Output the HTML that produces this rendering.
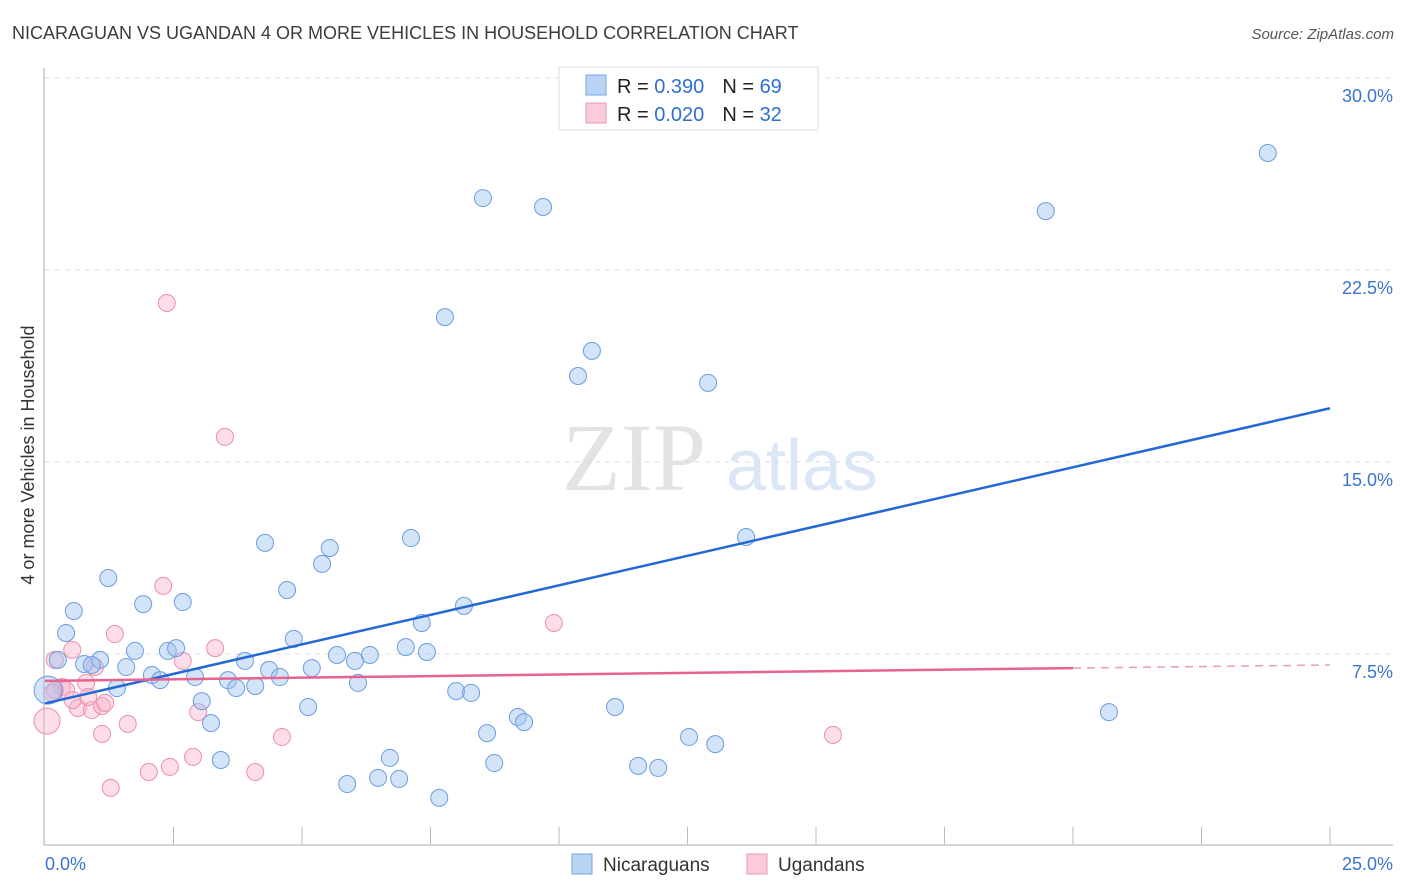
<!DOCTYPE html>
<html><head><meta charset="utf-8"><style>
body{margin:0;background:#fff;font-family:"Liberation Sans",sans-serif}
svg{display:block}
</style></head><body>
<svg id="chart" width="1406" height="892" viewBox="0 0 1406 892">
<text x="12" y="39" font-size="18" fill="#3c3c3c">NICARAGUAN VS UGANDAN 4 OR MORE VEHICLES IN HOUSEHOLD CORRELATION CHART</text>
<text x="1394" y="39" font-size="15" fill="#555" font-style="italic" text-anchor="end">Source: ZipAtlas.com</text>
<g>
<text x="634" y="490" font-size="96" fill="#e3e3e3" font-family="Liberation Serif,serif" text-anchor="middle">ZIP</text>
<text x="802" y="490" font-size="72" fill="#dbe7f7" text-anchor="middle">atlas</text>
</g>
<g id="grid"></g>
<g id="axes"></g>
<g id="marks"></g>
<text transform="translate(34,455) rotate(-90)" font-size="18" fill="#333" text-anchor="middle">4 or more Vehicles in Household</text>
<g>
<rect x="559" y="67" width="259" height="63" fill="#fff" stroke="#ddd"/>
<rect x="586" y="75" width="20" height="20" fill="#b9d3f5" stroke="#7aa6e3"/>
<rect x="586" y="103" width="20" height="20" fill="#fbcadb" stroke="#ee9ab8"/>
<text x="617" y="93" font-size="20" fill="#222">R = <tspan fill="#2f6fd0">0.390</tspan><tspan dx="18">N = </tspan><tspan fill="#2f6fd0">69</tspan></text>
<text x="617" y="121" font-size="20" fill="#222">R = <tspan fill="#2f6fd0">0.020</tspan><tspan dx="18">N = </tspan><tspan fill="#2f6fd0">32</tspan></text>
</g>
<g>
<rect x="572" y="854" width="20" height="20" fill="#b9d3f5" stroke="#7aa6e3"/>
<text x="603" y="871" font-size="19" fill="#333">Nicaraguans</text>
<rect x="747" y="854" width="20" height="20" fill="#fbcadb" stroke="#ee9ab8"/>
<text x="778" y="871" font-size="19" fill="#333">Ugandans</text>
</g>
</svg>
<script>
const yTicks=[7.5,15,22.5,30];
const yTickLabels=["7.5%","15.0%","22.5%","30.0%"];
const xTickCount=10;
const blueX=[23.79,8.52,9.69,19.47,7.78,10.64,10.37,12.90,13.64,4.28,7.12,5.54,5.39,1.23,4.71,1.91,2.68,0.56,8.15,7.33,0.41,4.84,1.75,2.39,2.55,7.02,7.43,5.68,6.32,6.03,0.25,1.07,0.76,0.91,1.58,3.89,5.19,4.36,2.08,2.24,2.92,3.56,4.57,6.09,3.72,4.09,1.40,0.06,8.0,8.29,3.05,5.12,11.09,9.20,9.32,3.23,20.70,8.60,12.53,13.04,6.71,3.42,8.74,11.54,11.93,6.48,6.89,5.88,7.67];
const blueY=[27.07,25.31,24.96,24.80,20.66,19.34,18.36,18.09,12.07,11.84,12.03,11.64,11.02,10.47,10.0,9.45,9.53,9.18,9.38,8.71,8.32,8.09,7.62,7.62,7.73,7.77,7.58,7.46,7.46,7.23,7.27,7.27,7.11,7.07,6.99,7.23,6.95,6.88,6.68,6.48,6.60,6.48,6.60,6.37,6.17,6.25,6.17,6.09,6.05,5.98,5.66,5.43,5.43,5.04,4.84,4.80,5.23,4.41,4.26,3.98,3.44,3.36,3.24,3.13,3.05,2.66,2.62,2.42,1.88];
const pinkX=[2.37,3.50,2.30,9.90,1.36,3.31,0.53,2.68,0.19,0.97,0.33,0.80,0.41,0.19,0.64,0.91,1.11,1.17,0.54,0.84,2.98,1.61,0.04,1.11,4.61,15.33,2.88,2.43,2.02,4.09,1.28,0.14];
const pinkY=[21.21,15.98,10.16,8.71,8.28,7.73,7.66,7.23,7.27,6.99,6.21,6.37,6.09,6.09,5.39,5.31,5.47,5.59,5.70,5.82,5.23,4.77,4.88,4.38,4.26,4.34,3.48,3.09,2.89,2.89,2.27,5.98];
const blueTrend=[5.57,17.1];      // y at x=0 and x=25
const pinkTrend=[6.45,6.95,7.07]; // y at x=0, 20, 25
const NS="http://www.w3.org/2000/svg";
const X=v=>45+v*51.4, Y=v=>846-v*25.6;
function mk(tag,attrs,parent){const e=document.createElementNS(NS,tag);for(const k in attrs)e.setAttribute(k,attrs[k]);parent.appendChild(e);return e;}
const grid=document.getElementById('grid'),axes=document.getElementById('axes'),marks=document.getElementById('marks');
yTicks.forEach((t,i)=>{
 const l=mk('line',{x1:45,x2:1393,y1:Y(t),y2:Y(t),stroke:'#ddd','stroke-dasharray':'5,5'},grid);
 
 
 const tx=mk('text',{x:1393,y:Y(t)+24,'font-size':18,fill:'#3a74d0','text-anchor':'end'},axes);
 tx.textContent=yTickLabels[i];
 
 
});
mk('line',{x1:44,x2:44,y1:68,y2:845,stroke:'#aaa'},axes);
mk('line',{x1:44,x2:1393,y1:845,y2:845,stroke:'#aaa'},axes);
for(let i=1;i<=xTickCount;i++){const l=mk('line',{x1:X(i*2.5),x2:X(i*2.5),y1:827,y2:845,stroke:'#bbb'},axes);
 
 }
let t0=mk('text',{x:45,y:870,'font-size':18,fill:'#3a74d0'},axes);t0.textContent="0.0%";


let t1=mk('text',{x:1393,y:870,'font-size':18,fill:'#3a74d0','text-anchor':'end'},axes);t1.textContent="25.0%";


pinkX.forEach((x,i)=>{const c=mk('circle',{cx:X(x),cy:Y(pinkY[i]),r:i==22?13:8.5,fill:'rgba(248,180,205,0.45)',stroke:'#ec8fb0','stroke-width':1},marks);
 
 });
blueX.forEach((x,i)=>{const c=mk('circle',{cx:X(x),cy:Y(blueY[i]),r:i==47?14:8.5,fill:'rgba(160,195,240,0.45)',stroke:'#6b9de0','stroke-width':1},marks);
 
 });
let bl=mk('line',{x1:X(0),y1:Y(blueTrend[0]),x2:X(25),y2:Y(blueTrend[1]),stroke:'#2468d4','stroke-width':2.5},marks);


let pl=mk('line',{x1:X(0),y1:Y(pinkTrend[0]),x2:X(20),y2:Y(pinkTrend[1]),stroke:'#e8628f','stroke-width':2.5},marks);


let pd=mk('line',{x1:X(20),y1:Y(pinkTrend[1]),x2:X(25),y2:Y(pinkTrend[2]),stroke:'#e8a0b8','stroke-width':1.5,'stroke-dasharray':'8,6'},marks);


</script>
</body></html>
